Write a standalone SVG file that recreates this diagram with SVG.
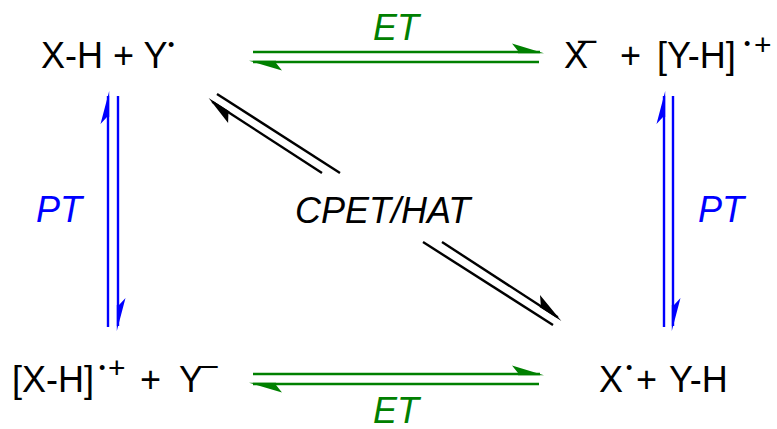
<svg xmlns="http://www.w3.org/2000/svg" width="777" height="429" viewBox="0 0 777 429">
<style>
text{font-family:"Liberation Sans",Arial,sans-serif;font-size:36px;fill:#000}
.it{font-style:italic}
.g{fill:#008000}
.b{fill:#0000ff}
.dot{font-size:18px}
.sup{font-size:30px}
.ln{fill:none;stroke-width:2.4;stroke-linecap:butt}
.lg{stroke:#008000}
.lb{stroke:#0000ff}
.lk{stroke:#000}
</style>
<rect width="777" height="429" fill="#fff"/>
<g id="node-xh-y">
<text x="41" y="68">X-H + Y</text>
<text class="dot" x="168" y="51">•</text>
</g>
<g id="node-x-yh-cation">
<text x="564" y="68">X</text>
<text class="sup" x="578" y="50" style="font-size:33px">–</text>
<text x="620" y="68">+</text>
<text x="657" y="68">[Y-H]</text>
<text class="dot" x="744" y="50">•</text>
<text class="sup" x="754" y="55">+</text>
</g>
<g id="node-xh-cation-y">
<text x="12" y="392">[X-H]</text>
<text class="dot" x="99" y="374">•</text>
<text class="sup" x="108" y="378">+</text>
<text x="140" y="392">+</text>
<text x="179" y="392">Y</text>
<text class="sup" x="201" y="375">–</text>
</g>
<g id="node-x-yh">
<text x="599" y="392">X</text>
<text class="dot" x="626" y="374">•</text>
<text x="636" y="392">+</text>
<text x="669" y="392">Y-H</text>
</g>
<g id="labels">
<text class="it g" x="373" y="40">ET</text>
<text class="it g" x="373" y="423">ET</text>
<text class="it b" x="36" y="222">PT</text>
<text class="it b" x="698" y="222">PT</text>
<text class="it" x="295" y="223">CPET/HAT</text>
</g>
<g id="connectors">
<line class="ln lg" x1="253" y1="52" x2="540" y2="52"/>
<polygon class="g" points="544,53.2 512,43.5 518,51 518,53.2"/>
<line class="ln lg" x1="253" y1="62" x2="539" y2="62"/>
<polygon class="g" points="249,60.8 282,70.5 276,63 276,60.8"/>
<line class="ln lg" x1="253" y1="374" x2="540" y2="374"/>
<polygon class="g" points="544,375.2 512,365.5 518,373 518,375.2"/>
<line class="ln lg" x1="253" y1="384" x2="539" y2="384"/>
<polygon class="g" points="249,382.8 282,392.5 276,385 276,382.8"/>
<line class="ln lb" x1="108" y1="96" x2="108" y2="327"/>
<polygon class="b" points="109.2,91 100.5,124 107,117 109.2,117"/>
<line class="ln lb" x1="118" y1="96" x2="118" y2="326"/>
<polygon class="b" points="116.8,331 125.5,298 119,305 116.8,305"/>
<line class="ln lb" x1="664" y1="96" x2="664" y2="327"/>
<polygon class="b" points="665.2,91 656.5,124 663,117 665.2,117"/>
<line class="ln lb" x1="673" y1="96" x2="673" y2="326"/>
<polygon class="b" points="671.8,331 680.5,298 674,305 671.8,305"/>
<line class="ln lk" x1="217" y1="94" x2="340" y2="173"/>
<line class="ln lk" x1="212.2" y1="101.7" x2="322" y2="173"/>
<polygon fill="#000" points="208.6,98 228.1,123.1 228.4,113.5 229.6,111.5"/>
<line class="ln lk" x1="442" y1="242" x2="557.8" y2="317.3"/>
<polygon fill="#000" points="561.4,321 540,295 540.8,305 539.5,307"/>
<line class="ln lk" x1="423" y1="242" x2="553" y2="325"/>
</g>
</svg>
